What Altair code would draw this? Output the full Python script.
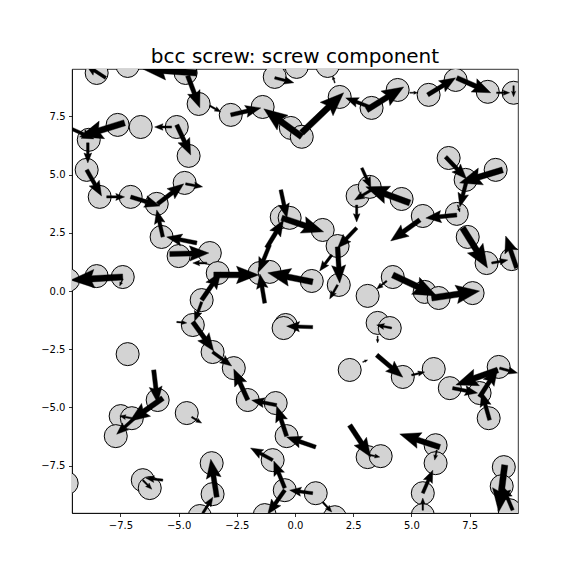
import numpy as np
import pandas as pd
import altair as alt

# atom positions (data units)
atom_x = [-8.52, -7.19, -4.70, -4.14, -7.62, -6.63, -5.08, -8.86, -4.57, -8.95, -4.74, -8.39, -7.06, -5.94,
          -0.87, 0.07, 1.40, -2.76, -1.39, -0.18, 0.29, 1.92, 3.29, 2.69, 3.21, 4.41, 5.74, 6.90, 8.28, 9.39,
          6.60, 7.33, 8.62, 4.58, 5.49, 6.95, -5.73, -5.00, -3.66, -3.32, -8.52, -7.40, -9.75, -4.01, -4.39,
          -7.19, -3.54, -0.57, -0.23, 1.19, 1.83, -1.52, -1.09, 0.72, 1.88, 3.12, -0.40, -0.49, 7.42, 8.23, 9.31,
          4.20, 5.57, 6.17, 7.63, 3.55, 4.07, -5.90, -4.65, -7.49, -7.01, -7.70, -3.58, -9.81, -6.54, -6.24, -3.54, -4.09,
          -2.63, -2.03, -0.83, -0.36, -0.96, -0.44, 0.89, -1.30, 1.71, 2.35, 3.12, 3.68, 4.63, 5.96, 6.65, 7.93, 8.75, 8.32,
          6.04, 6.04, 5.49, 5.49, 8.97, 8.88, 9.22]
atom_y = [9.36, 9.66, 9.36, 8.03, 7.13, 7.04, 7.04, 6.49, 5.80, 5.20, 4.64, 4.04, 4.04, 3.74,
          9.19, 9.62, 9.66, 7.56, 7.90, 7.00, 6.62, 8.33, 7.86, 4.08, 4.47, 8.63, 8.42, 9.06, 8.55, 8.51,
          5.71, 4.77, 5.20, 3.95, 3.22, 3.31, 2.32, 1.50, 1.63, 0.77, 0.64, 0.60, 0.47, -0.39, -1.46,
          -2.71, -2.62, 3.18, 3.14, 2.62, 1.93, 0.77, 0.82, 0.43, 0.26, -0.21, -1.46, -1.59, 2.32, 1.20, 1.37,
          0.60, -0.04, -0.30, -0.09, -1.37, -1.59, -4.68, -5.24, -5.37, -5.46, -6.23, -7.39, -8.25, -8.12, -8.46, -8.72, -9.66,
          -3.31, -4.68, -4.81, -6.23, -7.26, -8.55, -8.68, -9.62, -9.71, -3.39, -7.13, -7.09, -3.69, -3.35, -4.17, -4.38, -3.26, -5.46,
          -6.62, -7.39, -8.68, -9.62, -7.56, -8.38, -9.41]

# arrows: tail position and vector (data units)
arrow_x = [-8.13, -4.22, -4.61, -3.66, -5.30, -5.08, -7.32, -9.59, -8.90, -8.95, -8.09, -7.06, -5.68, -5.90, -4.70,
           -0.87, -2.76, 0.29, 0.29, 3.21, 1.71, 2.87, 3.29, -0.61, 2.65,
           3.08, 4.93, 5.70, 6.95, 8.66, 9.39, 6.47, 8.92, 7.38, 4.93,
           -4.22, -5.38, -3.79, -4.01, -4.39, -4.01, -3.54, -5.08, -7.40, -7.40,
           -0.57, -1.22, -1.09, 2.65, 1.83, 1.58, 1.83, 0.76, -3.49, -1.30, 0.76,
           6.95, 5.36, 6.99, 7.20, 8.45, 9.52, 4.20, 5.87, 3.94, 4.15, 3.55,
           -6.07, -5.68, -6.89, -7.01, -4.44, -5.68, -6.54, -3.36, -3.96,
           -2.03, -0.79, -0.36, 0.89, -0.44, -0.96, 0.76, -0.44, 1.19, 2.35, 2.91,
           3.51, 5.01, 6.77, 8.71, 7.93, 8.36, 8.79, 6.22, 6.09, 5.49, 3.21, 9.01, 9.35, 5.49]
arrow_y = [9.15, 9.36, 9.24, 7.95, 7.04, 7.13, 7.22, 6.96, 6.36, 5.20, 4.04, 4.04, 2.32, 3.74, 4.60,
           9.15, 7.56, 6.62, 6.79, 7.90, 8.93, 5.28, 4.34, 4.34, 3.69,
           7.77, 8.51, 8.42, 9.15, 8.51, 8.81, 5.76, 5.20, 4.77, 3.78,
           2.06, 1.59, 1.20, -0.39, -1.33, -0.47, -2.62, -1.33, 0.60, 0.52,
           3.14, 1.85, 1.98, 2.71, 1.89, 1.55, 0.26, 0.39, 0.69, -0.52, -1.55,
           3.26, 3.05, 3.69, 2.71, 1.20, 0.99, 0.69, -0.30, 0.43, -1.59, -1.93,
           -3.39, -4.60, -5.46, -5.46, -5.41, -8.12, -8.12, -8.85, -9.54,
           -4.68, -4.90, -6.23, -6.70, -8.46, -7.26, -8.68, -8.55, -9.06, -5.76, -3.05,
           -2.75, -3.61, -4.17, -3.39, -4.55, -5.54, -3.31, -6.70, -6.83, -8.68, -7.04, -7.47, -9.41, -9.41]
arrow_dx = [-0.86, -2.32, 0.52, 0.47, -0.73, 0.60, -1.93, 0.95, 0.00, 0.64, 0.77, 1.25, -0.26, 1.12, 0.73,
            0.82, 1.29, -1.63, 1.80, -1.03, -0.09, 0.39, -0.73, 0.26, 0.00,
            1.59, 0.34, 1.20, 1.46, 0.56, 0.00, 0.90, -1.85, -0.30, -1.89,
            -1.29, 1.68, -0.60, 0.82, 0.90, -0.30, 0.82, 0.43, -2.23, -0.13,
            1.80, 0.73, -0.47, -0.82, 0.09, -0.52, -0.34, -1.93, 1.93, -0.21, -1.12,
            -1.33, -1.25, 0.09, 1.07, 0.69, -0.47, 1.89, 2.06, -0.43, -0.64, 0.00,
            0.17, -1.42, -0.77, -0.52, 0.43, -0.73, 0.39, -0.26, 0.43,
            -0.60, -1.07, -0.43, -1.25, -0.47, -0.95, -0.99, -0.73, 0.39, 0.90, 0.21,
            1.12, 0.56, 1.07, -1.80, 0.77, -0.34, 0.77, -1.72, -0.09, 0.43, 0.43, -0.26, -0.43, 0.00]
arrow_dy = [0.56, 0.17, -1.37, -0.26, 0.00, -1.29, -0.60, -0.43, -0.86, -1.12, 0.00, -0.39, 1.16, 0.86, -0.13,
            -0.21, 0.30, 1.20, 1.72, 0.39, 0.30, -0.86, -0.43, -1.20, -0.73,
            0.99, 0.00, 0.73, -0.64, 0.00, -0.47, -0.95, -0.56, -1.16, 0.69,
            0.26, 0.04, 0.00, 1.20, -1.25, -0.82, -0.60, -0.04, -0.13, -0.30,
            -0.60, 1.20, -1.16, -0.86, -1.55, -0.69, -0.60, 0.39, 0.00, 1.25, 0.04,
            -0.13, -0.90, -0.30, -1.72, 0.13, 1.37, -0.90, 0.30, -0.34, 0.13, -0.30,
            -1.42, -0.99, -0.69, 0.09, -0.26, 0.09, -0.39, 1.63, 0.69,
            1.33, 0.21, 1.29, 0.43, 1.16, 0.52, 0.13, -1.03, -0.43, -1.37, 0.09,
            -0.95, 0.13, -0.21, -0.64, 1.20, 1.20, -0.21, 0.56, -0.43, 0.99, -0.09, -2.02, 1.03, 0.52]

ticks = [-7.5, -5.0, -2.5, 0.0, 2.5, 5.0, 7.5]
X_DOMAIN = [-9.58, 9.58]
Y_DOMAIN = [-9.53, 9.53]
W, H = 446, 444
ppu = W / (X_DOMAIN[1] - X_DOMAIN[0])  # pixels per data unit (equal aspect)

# build arrow polygons (quiver-like) from the arrow data
rows = []
for i, (x0, y0, dx, dy) in enumerate(zip(arrow_x, arrow_y, arrow_dx, arrow_dy)):
    L = float(np.hypot(dx, dy))
    if L == 0:
        continue
    ux, uy = dx / L, dy / L
    nx, ny = -uy, ux
    wp = min(max(0.13 * L * ppu, 0.8), 6.2)
    w = wp / ppu
    hl, hal, hw = 3.8 * w, 3.4 * w, 1.5 * w
    if hl > 0.75 * L:
        s = 0.75 * L / hl
        hl, hal = hl * s, hal * s
    pts = [(0, w / 2), (L - hal, w / 2), (L - hl, hw), (L, 0), (L - hl, -hw),
           (L - hal, -w / 2), (0, -w / 2), (0, w / 2)]
    for k, (a, b) in enumerate(pts):
        rows.append({"arrow": i, "k": k, "x": x0 + a * ux + b * nx, "y": y0 + a * uy + b * ny})
arrow_df = pd.DataFrame(rows)
atoms = pd.DataFrame({"x": atom_x, "y": atom_y})

xs = alt.Scale(domain=X_DOMAIN, nice=False, zero=False)
ys = alt.Scale(domain=Y_DOMAIN, nice=False, zero=False)
xax = alt.Axis(values=ticks, format=".1f", title=None, grid=False)
yax = alt.Axis(values=ticks, format=".1f", title=None, grid=False)

circles = alt.Chart(atoms).mark_point(
    shape="circle", filled=True, fill="lightgray", stroke="black", strokeWidth=1,
    size=530, opacity=1, clip=True
).encode(
    x=alt.X("x:Q", scale=xs, axis=xax),
    y=alt.Y("y:Q", scale=ys, axis=yax),
)

arrows = alt.Chart(arrow_df).mark_line(
    fill="black", stroke="black", strokeWidth=0.4, clip=True, interpolate="linear"
).encode(
    x=alt.X("x:Q", scale=xs),
    y=alt.Y("y:Q", scale=ys),
    detail="arrow:N",
    order="k:Q",
)

chart = alt.layer(circles, arrows).properties(
    width=W, height=H,
    title=alt.TitleParams("bcc screw: screw component", fontSize=20, font="DejaVu Sans",
                          fontWeight="normal", color="black", anchor="middle", offset=2),
    padding={"left": 64, "top": 61, "right": 50, "bottom": 55},
    autosize=alt.AutoSizeParams(type="none"),
).configure_axis(
    labelFont="DejaVu Sans", labelFontSize=10, labelColor="black",
    tickColor="black", domainColor="black", tickSize=3.5, tickWidth=0.8,
    domainWidth=0.8, labelPadding=3.5,
).configure_view(stroke="black", strokeWidth=0.8)

chart.save("out.html", embed_options={"renderer": "svg", "actions": False})
